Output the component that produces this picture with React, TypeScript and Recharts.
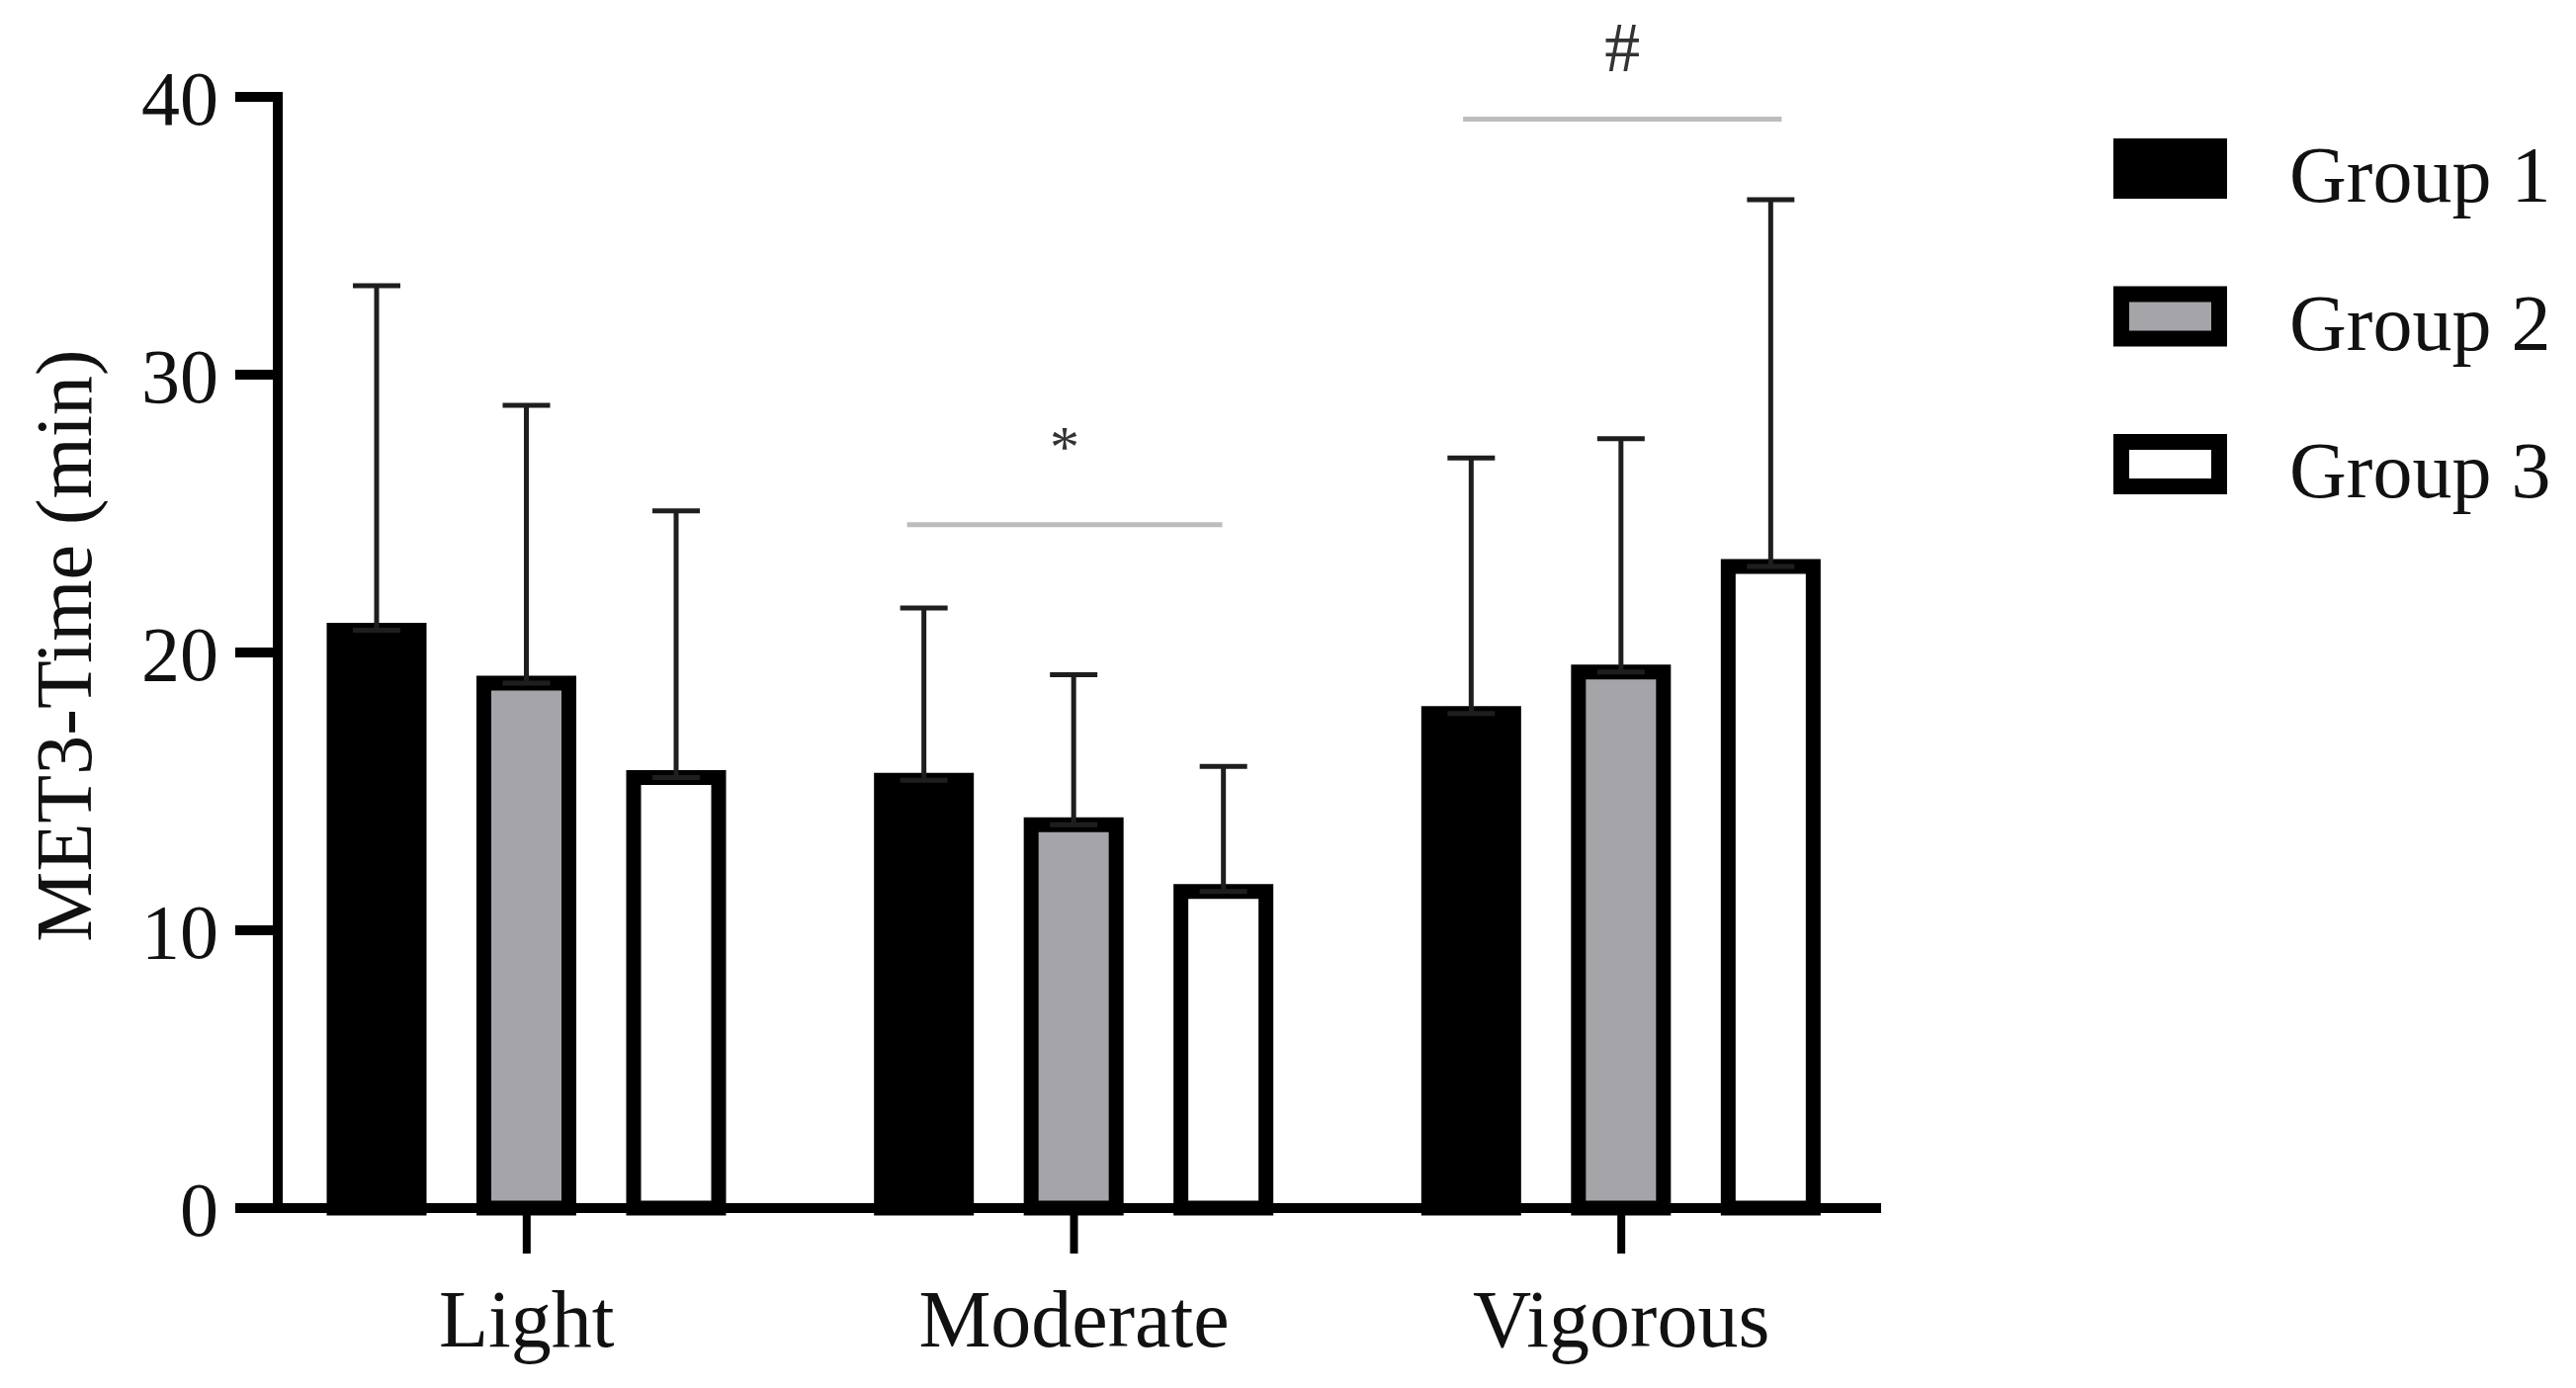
import React from 'react';
import { BarChart, Bar, XAxis, YAxis, ErrorBar, Legend, ReferenceLine } from 'recharts';

const categories = ['Light', 'Moderate', 'Vigorous'];
const groupNames = ['Group 1', 'Group 2', 'Group 3'];
const groupFills = ['#000000', '#a5a5a9', '#ffffff'];

// mean and SD (one-sided, upward)
const group1Mean = [20.8, 15.4, 17.8];
const group1Sd = [12.4, 6.2, 9.2];
const group2Mean = [18.9, 13.8, 19.3];
const group2Sd = [10.0, 5.4, 8.4];
const group3Mean = [15.5, 11.4, 23.1];
const group3Sd = [9.6, 4.5, 13.2];

const yTicks = [0, 10, 20, 30, 40];

// significance bars, x in category-index units (0 = Light, 1 = Moderate, 2 = Vigorous)
const sigMarks = ['*', '#'];
const sigFrom = [0.695, 1.711];
const sigTo = [1.271, 2.293];
const sigLevel = [24.6, 39.2];

const data = categories.map((category, i) => ({
  category,
  idx: i,
  g1: group1Mean[i],
  g1Err: [0, group1Sd[i]],
  g2: group2Mean[i],
  g2Err: [0, group2Sd[i]],
  g3: group3Mean[i],
  g3Err: [0, group3Sd[i]],
}));

const FONT = '"Liberation Serif", "Times New Roman", serif';
const AXIS_PAD = { left: -25, right: -19 };

const LegendBox = ({ payload }: any) => (
  <svg width={468} height={450} style={{ display: 'block' }}>
    {(payload || []).map((entry: any, i: number) => (
      <g key={entry.value}>
        <rect x={8} y={18 + i * 149.5} width={99} height={45} fill={entry.color} stroke="#000" strokeWidth={16} />
        <text x={178} y={74 + i * 149.5} fontSize={80} fontFamily={FONT} fill="#111">
          {entry.value}
        </text>
      </g>
    ))}
  </svg>
);

const YLabel = () => (
  <text
    x={92}
    y={653}
    transform="rotate(-90 92 653)"
    textAnchor="middle"
    fontSize={80}
    fontFamily={FONT}
    fill="#111"
  >
    MET3-Time (min)
  </text>
);

export default function App() {
  const seriesKeys = ['g1', 'g2', 'g3'];
  return (
    <div style={{ position: 'absolute', left: 0, top: 0, background: '#fff' }}>
      <BarChart
        width={2606}
        height={1404}
        data={data}
        margin={{ top: 98, right: 240, bottom: 32, left: 0 }}
        barSize={86}
        barGap={65.5}
      >
        {seriesKeys.map((key, i) => (
          <Bar
            key={key}
            dataKey={key}
            name={groupNames[i]}
            fill={groupFills[i]}
            stroke="#000"
            strokeWidth={15}
            isAnimationActive={false}
          >
            <ErrorBar
              dataKey={`${key}Err`}
              direction="y"
              width={24}
              stroke="#1e1e1e"
              strokeWidth={5}
              isAnimationActive={false}
            />
          </Bar>
        ))}
        <XAxis
          dataKey="category"
          padding={AXIS_PAD}
          height={150}
          tickSize={46}
          tickMargin={36}
          axisLine={{ stroke: '#000', strokeWidth: 10, strokeLinecap: 'square' }}
          tickLine={{ stroke: '#000', strokeWidth: 8 }}
          tick={{ fill: '#111', fontSize: 82, fontFamily: FONT }}
        />
        <XAxis
          xAxisId="num"
          dataKey="idx"
          type="number"
          domain={[-0.5, 2.5]}
          allowDataOverflow
          padding={AXIS_PAD}
          hide
        />
        <YAxis
          domain={[0, 40]}
          ticks={yTicks}
          width={281}
          tickSize={43}
          tickMargin={17}
          axisLine={{ stroke: '#000', strokeWidth: 10, strokeLinecap: 'square' }}
          tickLine={{ stroke: '#000', strokeWidth: 10 }}
          tick={{ fill: '#111', fontSize: 78, fontFamily: FONT }}
          label={{ content: () => <YLabel /> }}
        />
        {sigMarks.map((mark, i) => (
          <ReferenceLine
            key={mark}
            xAxisId="num"
            ifOverflow="visible"
            segment={[
              { x: sigFrom[i], y: sigLevel[i] },
              { x: sigTo[i], y: sigLevel[i] },
            ]}
            stroke="#bdbdbd"
            strokeWidth={5}
            label={{
              value: mark,
              position: 'top',
              offset: i === 0 ? 59 : 48,
              fontSize: i === 0 ? 60 : 72,
              fontFamily: FONT,
              fill: '#333',
            }}
          />
        ))}
        <Legend
          layout="vertical"
          align="right"
          verticalAlign="top"
          width={468}
          height={450}
          wrapperStyle={{ left: 2138, top: 130 }}
          content={<LegendBox />}
        />
      </BarChart>
    </div>
  );
}
